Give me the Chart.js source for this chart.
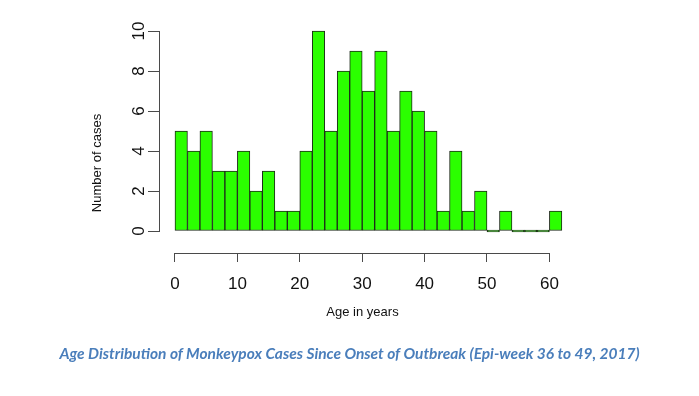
<!DOCTYPE html>
<html>
<head>
<meta charset="utf-8">
<script src="https://cdn.jsdelivr.net/npm/chart.js@4/dist/chart.umd.min.js"></script>
<style>
  html, body { margin: 0; padding: 0; background: #ffffff; }
  #wrap { position: relative; width: 699px; height: 396px; }
  #c { position: absolute; left: 0; top: 0; }
  #caption {
    position: absolute; left: 0; top: 344px; width: 699px; text-align: center;
    font-family: Lato, "Open Sans", sans-serif; font-style: italic; font-weight: bold;
    font-size: 15.5px; color: #4a7ebb; white-space: nowrap;
  }
</style>
</head>
<body>
<div id="wrap">
  <canvas id="c" width="699" height="396"></canvas>
  <div id="caption">Age Distribution of Monkeypox Cases Since Onset of Outbreak (Epi-week 36 to 49, 2017)</div>
</div>
<script>
// ---- data (bins of 2 years) ----
const binStarts = [0,2,4,6,8,10,12,14,16,18,20,22,24,26,28,30,32,34,36,38,40,42,44,46,48,50,52,54,56,58,60];
const binWidth = 2;
const caseCounts = [5,4,5,3,3,4,2,3,1,1,4,10,5,8,9,7,9,5,7,6,5,1,4,1,2,0,1,0,0,0,1];
const xTickValues = [0,10,20,30,40,50,60];
const yTickValues = [0,2,4,6,8,10];
const xTitle = 'Age in years';
const yTitle = 'Number of cases';

const points = binStarts.map((s, i) => ({ x: s + binWidth / 2, y: caseCounts[i] }));

const axisFont = 'Liberation Sans, Arial, sans-serif';

// draws R-style axis lines spanning only the tick range
const rAxes = {
  id: 'rAxes',
  afterDraw(chart) {
    const { ctx, chartArea, scales } = chart;
    const xs = scales.x, ys = scales.y;
    ctx.save();
    ctx.strokeStyle = '#4a4a4a';
    ctx.lineWidth = 1;
    ctx.beginPath();
    const yb = Math.round(chartArea.bottom) + 0.5;
    ctx.moveTo(xs.getPixelForValue(xTickValues[0]), yb);
    ctx.lineTo(xs.getPixelForValue(xTickValues[xTickValues.length - 1]), yb);
    const xl = Math.round(chartArea.left) - 0.5;
    ctx.moveTo(xl, ys.getPixelForValue(yTickValues[0]));
    ctx.lineTo(xl, ys.getPixelForValue(yTickValues[yTickValues.length - 1]));
    ctx.stroke();
    // y axis title (R centres it on the plot region)
    ctx.fillStyle = '#111';
    ctx.font = '13px ' + axisFont;
    ctx.textAlign = 'center';
    ctx.textBaseline = 'middle';
    ctx.translate(97, 163);
    ctx.rotate(-Math.PI / 2);
    ctx.fillText(yTitle, 0, 0);
    ctx.restore();
  }
};

new Chart(document.getElementById('c'), {
  type: 'bar',
  data: {
    datasets: [{
      data: points,
      backgroundColor: '#2bff00',
      borderColor: '#1e2a1a',
      borderWidth: 1,
      borderSkipped: false,
      minBarLength: 2,
      categoryPercentage: 1,
      barPercentage: 1
    }]
  },
  options: {
    responsive: false,
    animation: false,
    devicePixelRatio: 1,
    layout: { padding: { left: 0, top: 25, right: 134, bottom: 63 } },
    plugins: { legend: { display: false }, tooltip: { enabled: false } },
    scales: {
      x: {
        type: 'linear',
        offset: false,
        min: -2.4,
        max: 62.5,
        afterBuildTicks: (s) => { s.ticks = xTickValues.map(v => ({ value: v })); },
        afterFit: (s) => { s.height = 80; },
        border: { display: false },
        grid: { offset: false, drawOnChartArea: false, drawTicks: true, tickLength: 9, color: '#4a4a4a', lineWidth: 1 },
        ticks: { padding: 12, color: '#111', font: { family: axisFont, size: 17 }, maxRotation: 0, autoSkip: false },
        title: { display: true, text: xTitle, color: '#111', font: { family: axisFont, size: 13 }, padding: { top: 0, bottom: 13 } }
      },
      y: {
        type: 'linear',
        min: -1.1,
        max: 10.3,
        afterBuildTicks: (s) => { s.ticks = yTickValues.map(v => ({ value: v })); },
        afterFit: (s) => { s.width = 160; },
        border: { display: false },
        grid: { drawOnChartArea: false, drawTicks: true, tickLength: 12, color: '#4a4a4a', lineWidth: 1 },
        ticks: { padding: -1, crossAlign: 'center', minRotation: 90, maxRotation: 90, color: '#111', font: { family: axisFont, size: 17 }, autoSkip: false }
      }
    }
  },
  plugins: [rAxes]
});
</script>
</body>
</html>
